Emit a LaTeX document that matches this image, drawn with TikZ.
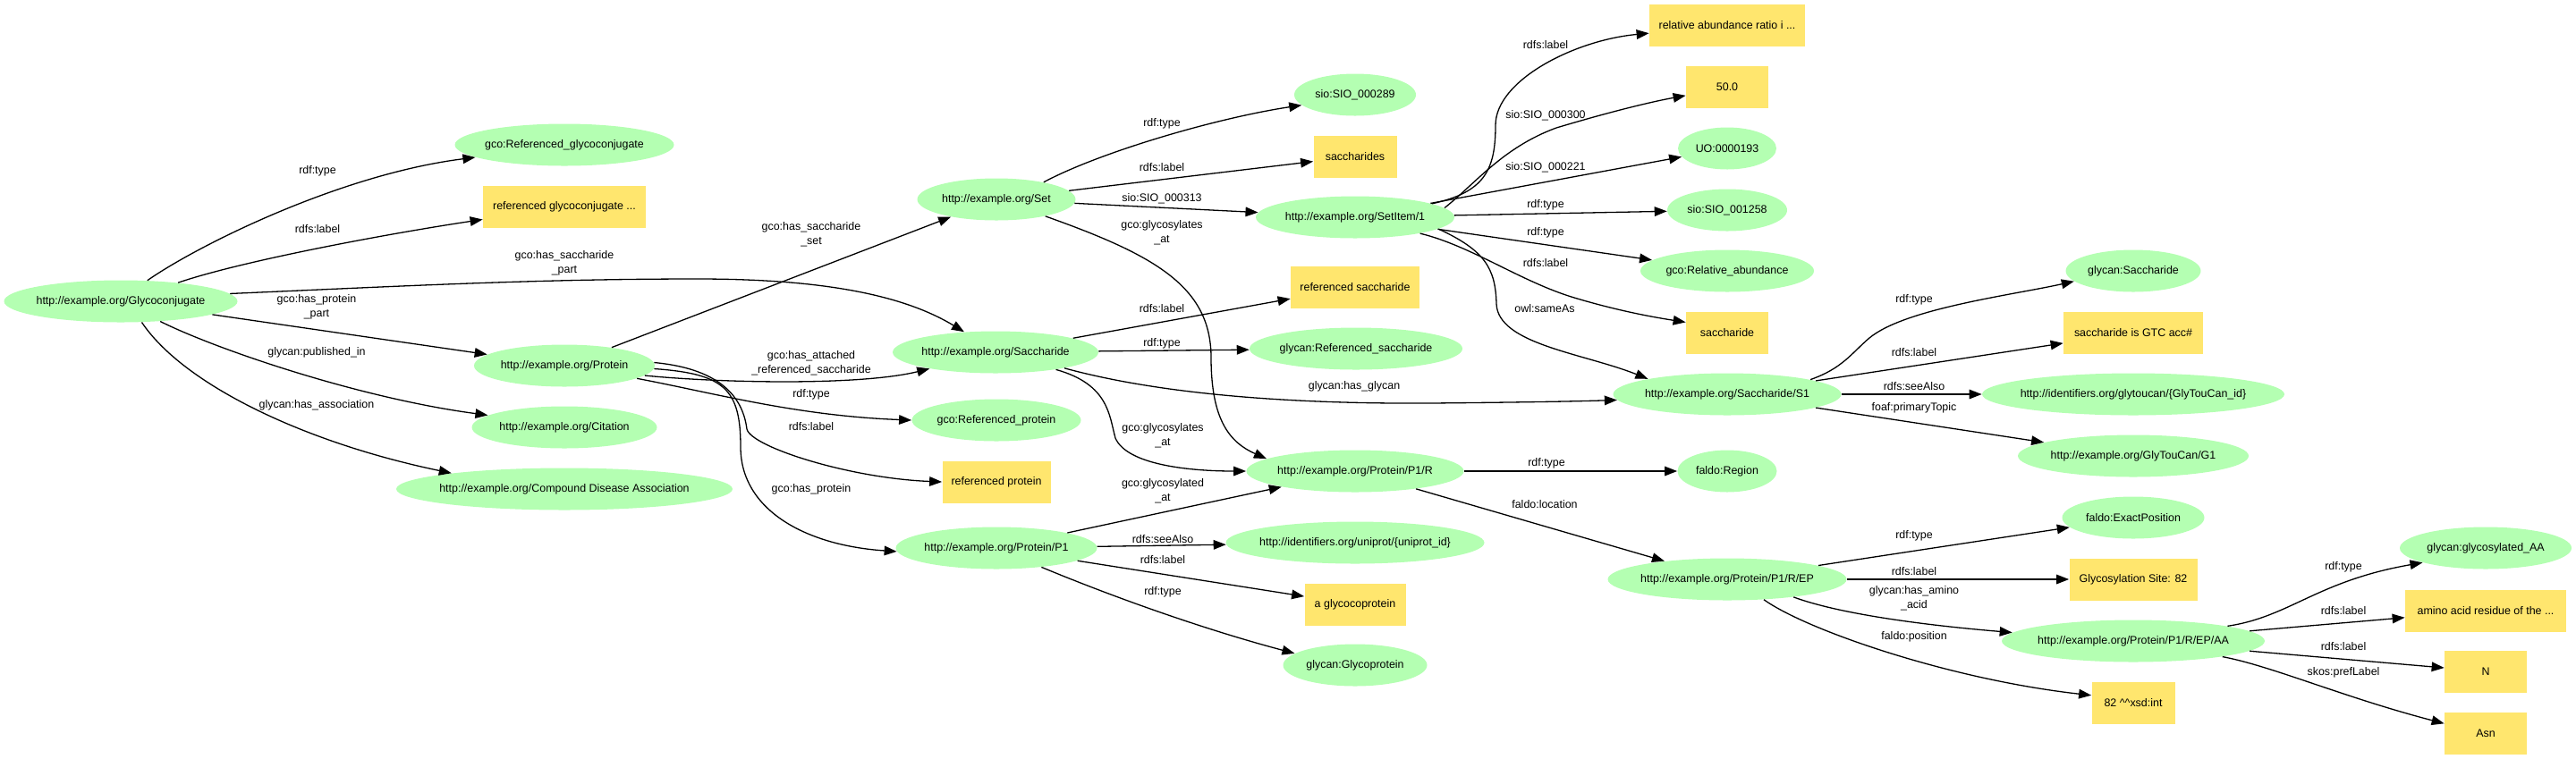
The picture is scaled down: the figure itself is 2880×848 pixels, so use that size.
\documentclass[tikz,border=0pt]{standalone}
\usepackage{fontspec}
\setmainfont{Liberation Sans}
\usetikzlibrary{shapes.geometric,arrows.meta}
\definecolor{ngreen}{RGB}{180,255,178}
\definecolor{nyellow}{RGB}{255,230,110}
\newcommand\gfont{\fontsize{6.22pt}{7.8pt}\selectfont}
\newcommand\ztxt[1]{\makebox[0pt]{#1}}
\begin{document}
\begin{tikzpicture}[x=0.5pt,y=-0.5pt,
  gn/.style={ellipse,fill=ngreen,draw=none,inner sep=0pt,minimum height=23.5pt,font=\gfont},
  yb/.style={rectangle,fill=nyellow,draw=none,inner sep=0pt,minimum height=23.5pt,font=\gfont},
  lb/.style={font=\gfont,align=center,inner sep=0pt},
  e/.style={-{Triangle[length=7pt,width=5.3pt]},line width=0.65pt,black}]
\useasboundingbox (0,0) rectangle (2880,848);
% ellipses
\node[gn,minimum width=130.5pt] (G) at (135,337) {\ztxt{http://example.org/Glycoconjugate}};
\node[gn,minimum width=122.5pt] (RGC) at (631,162) {\ztxt{gco:Referenced\_glycoconjugate}};
\node[gn,minimum width=101pt] (Pr) at (631,409) {\ztxt{http://example.org/Protein}};
\node[gn,minimum width=103.5pt] (Cit) at (631,478) {\ztxt{http://example.org/Citation}};
\node[gn,minimum width=188pt] (CDA) at (631,547) {\ztxt{http://example.org/Compound Disease Association}};
\node[gn,minimum width=88.5pt] (Set) at (1114,223) {\ztxt{http://example.org/Set}};
\node[gn,minimum width=115pt] (Sa) at (1113,394) {\ztxt{http://example.org/Saccharide}};
\node[gn,minimum width=94.5pt] (RP) at (1114,470) {\ztxt{gco:Referenced\_protein}};
\node[gn,minimum width=112.5pt] (P1) at (1114,613) {\ztxt{http://example.org/Protein/P1}};
\node[gn,minimum width=68pt] (S289) at (1515,106) {\ztxt{sio:SIO\_000289}};
\node[gn,minimum width=111pt] (SI) at (1515,243) {\ztxt{http://example.org/SetItem/1}};
\node[gn,minimum width=119pt] (GRS) at (1516,390) {\ztxt{glycan:Referenced\_saccharide}};
\node[gn,minimum width=121.5pt] (PR) at (1515,527) {\ztxt{http://example.org/Protein/P1/R}};
\node[gn,minimum width=144.5pt] (UNI) at (1515,607) {\ztxt{http://identifiers.org/uniprot/\{uniprot\_id\}}};
\node[gn,minimum width=80.5pt] (GP) at (1515,744) {\ztxt{glycan:Glycoprotein}};
\node[gn,minimum width=55pt] (UO) at (1931,166) {\ztxt{UO:0000193}};
\node[gn,minimum width=67pt] (S1258) at (1931,235) {\ztxt{sio:SIO\_001258}};
\node[gn,minimum width=97pt] (RA) at (1931,303) {\ztxt{gco:Relative\_abundance}};
\node[gn,minimum width=127.5pt] (S1) at (1931,441) {\ztxt{http://example.org/Saccharide/S1}};
\node[gn,minimum width=55.5pt] (FR) at (1931,527) {\ztxt{faldo:Region}};
\node[gn,minimum width=133.5pt] (EP) at (1931,648) {\ztxt{http://example.org/Protein/P1/R/EP}};
\node[gn,minimum width=75.5pt] (GS) at (2385,303) {\ztxt{glycan:Saccharide}};
\node[gn,minimum width=169pt] (GTI) at (2385,441) {\ztxt{http://identifiers.org/glytoucan/\{GlyTouCan\_id\}}};
\node[gn,minimum width=129pt] (G1) at (2385,510) {\ztxt{http://example.org/GlyTouCan/G1}};
\node[gn,minimum width=79.5pt] (EXP) at (2385,579) {\ztxt{faldo:ExactPosition}};
\node[gn,minimum width=147pt] (AA) at (2385,717) {\ztxt{http://example.org/Protein/P1/R/EP/AA}};
\node[gn,minimum width=96pt] (GAA) at (2779,613) {\ztxt{glycan:glycosylated\_AA}};
% boxes
\node[yb,minimum width=91pt] (RGCL) at (631,231) {referenced glycoconjugate ...};
\node[yb,minimum width=46.5pt] (SACS) at (1515,175) {saccharides};
\node[yb,minimum width=72pt] (RSL) at (1515,321) {referenced saccharide};
\node[yb,minimum width=60.5pt] (RPL) at (1114,539) {referenced protein};
\node[yb,minimum width=56.5pt] (AGP) at (1515,676) {a glycocoprotein};
\node[yb,minimum width=87pt] (RAR) at (1931,28) {relative abundance ratio i ...};
\node[yb,minimum width=46pt] (F50) at (1931,97) {50.0};
\node[yb,minimum width=46pt] (SACL) at (1931,372) {saccharide};
\node[yb,minimum width=78pt] (GTC) at (2385,372) {saccharide is GTC acc\#};
\node[yb,minimum width=71.5pt] (GSL) at (2385,648) {Glycosylation Site: 82};
\node[yb,minimum width=46.5pt] (XSD) at (2385,786) {82 \textasciicircum\textasciicircum xsd:int};
\node[yb,minimum width=90pt] (AAR) at (2779,683) {amino acid residue of the ...};
\node[yb,minimum width=46pt] (N) at (2779,751) {N};
\node[yb,minimum width=46pt] (ASN) at (2779,820) {Asn};
% edges from Glycoconjugate
\draw[e] (G.38) .. controls (220,275) and (380,195) .. (RGC.188);
\draw[e] (G.18) .. controls (270,292) and (430,262) .. (RGCL.189);
\draw[e] (G.4) .. controls (450,320) and (600,312) .. (780,312) .. controls (920,312) and (1010,330) .. (Sa.147);
\draw[e] (G) -- (Pr);
\draw[e] (G.333) .. controls (240,390) and (400,445) .. (Cit.171);
\draw[e] (G.315) .. controls (205,430) and (340,495) .. (CDA.172);
% edges from Protein
\draw[e] (Pr) -- (Set);
\draw[e] (Pr.353) .. controls (800,428) and (960,432) .. (Sa.194);
\draw[e] (Pr.350) .. controls (800,440) and (890,465) .. (RP.180);
\draw[e] (Pr.2) .. controls (800,412) and (830,440) .. (835,480) .. controls (840,500) and (950,535) .. (RPL.180);
\draw[e] (Pr.358) .. controls (810,418) and (828,435) .. (828,500) .. controls (828,570) and (900,610) .. (P1.182);
% edges from Set
\draw[e] (Set.20) .. controls (1230,170) and (1360,132) .. (S289.191);
\draw[e] (Set) -- (SACS);
\draw[e] (Set) -- (SI);
\draw[e] (Set.341) .. controls (1290,285) and (1354,320) .. (1354,400) .. controls (1354,470) and (1375,495) .. (PR.172);
% edges from SetItem/1
\draw[e] (SI.10) .. controls (1660,215) and (1672,190) .. (1672,140) .. controls (1672,90) and (1760,45) .. (RAR.186);
\draw[e] (SI.6) .. controls (1650,205) and (1680,165) .. (1740,143) .. controls (1790,128) and (1840,115) .. (F50.192);
\draw[e] (SI) -- (UO);
\draw[e] (SI) -- (S1258);
\draw[e] (SI) -- (RA);
\draw[e] (SI.346) .. controls (1645,275) and (1700,315) .. (1760,333) .. controls (1810,348) and (1850,355) .. (SACL.166);
\draw[e] (SI.352) .. controls (1660,280) and (1672,300) .. (1673,340) .. controls (1675,385) and (1770,395) .. (S1.169);
% edges from Saccharide
\draw[e] (Sa) -- (RSL);
\draw[e] (Sa) -- (GRS);
\draw[e] (Sa.347) .. controls (1300,442) and (1450,452) .. (1600,451) .. controls (1700,450) and (1760,449) .. (S1.183);
\draw[e] (Sa.344) .. controls (1240,430) and (1240,465) .. (1247,490) .. controls (1260,520) and (1330,527) .. (PR.180);
% edges from Protein/P1
\draw[e] (P1) -- (PR);
\draw[e] (P1) -- (UNI);
\draw[e] (P1) -- (AGP);
\draw[e] (P1.337) .. controls (1250,670) and (1350,705) .. (GP.169);
% edges from Saccharide/S1
\draw[e] (S1.10) .. controls (2060,412) and (2070,395) .. (2090,378) .. controls (2130,345) and (2250,330) .. (GS.190);
\draw[e] (S1) -- (GTC);
\draw[e] (S1) -- (GTI);
\draw[e] (S1) -- (G1);
% edges from Protein/P1/R
\draw[e] (PR) -- (FR);
\draw[e] (PR) -- (EP);
% edges from EP
\draw[e] (EP) -- (EXP);
\draw[e] (EP) -- (GSL);
\draw[e] (EP.345) .. controls (2060,688) and (2160,700) .. (AA.176);
\draw[e] (EP.331) .. controls (2020,705) and (2180,760) .. (XSD.170);
% edges from AA
\draw[e] (AA.9) .. controls (2560,690) and (2590,650) .. (GAA.193);
\draw[e] (AA) -- (AAR);
\draw[e] (AA) -- (N);
\draw[e] (AA.350) .. controls (2540,745) and (2620,780) .. (ASN.167);
% edge labels
\node[lb] (l1) at (355,191) {rdf:type};
\node[lb] (l2) at (355,256) {rdfs:label};
\node[lb] (l3) at (631,294) {gco:has\_saccharide\\\_part};
\node[lb] (l4) at (354,343) {gco:has\_protein\\\_part};
\node[lb] (l5) at (354,394) {glycan:published\_in};
\node[lb] (l6) at (354,453) {glycan:has\_association};
\node[lb] (l7) at (907,262) {gco:has\_saccharide\\\_set};
\node[lb] (l8) at (907,406) {gco:has\_attached\\\_referenced\_saccharide};
\node[lb] (l9) at (907,441) {rdf:type};
\node[lb] (l10) at (907,477) {rdfs:label};
\node[lb] (l11) at (907,547) {gco:has\_protein};
\node[lb] (l12) at (1299,138) {rdf:type};
\node[lb] (l13) at (1299,187) {rdfs:label};
\node[lb] (l14) at (1299,222) {sio:SIO\_000313};
\node[lb] (l15) at (1299,260) {gco:glycosylates\\\_at};
\node[lb] (l16) at (1299,345) {rdfs:label};
\node[lb] (l17) at (1299,384) {rdf:type};
\node[lb] (l18) at (1514,432) {glycan:has\_glycan};
\node[lb] (l19) at (1300,487) {gco:glycosylates\\\_at};
\node[lb] (l20) at (1300,549) {gco:glycosylated\\\_at};
\node[lb] (l21) at (1300,603) {rdfs:seeAlso};
\node[lb] (l22) at (1300,626) {rdfs:label};
\node[lb] (l23) at (1300,662) {rdf:type};
\node[lb] (l24) at (1728,50) {rdfs:label};
\node[lb] (l25) at (1728,129) {sio:SIO\_000300};
\node[lb] (l26) at (1728,187) {sio:SIO\_000221};
\node[lb] (l27) at (1728,229) {rdf:type};
\node[lb] (l28) at (1728,260) {rdf:type};
\node[lb] (l29) at (1728,294) {rdfs:label};
\node[lb] (l30) at (1727,345) {owl:sameAs};
\node[lb] (l31) at (2140,335) {rdf:type};
\node[lb] (l32) at (2140,394) {rdfs:label};
\node[lb] (l33) at (2140,432) {rdfs:seeAlso};
\node[lb] (l34) at (2140,456) {foaf:primaryTopic};
\node[lb] (l35) at (1729,518) {rdf:type};
\node[lb] (l36) at (1727,564) {faldo:location};
\node[lb] (l37) at (2140,599) {rdf:type};
\node[lb] (l38) at (2140,639) {rdfs:label};
\node[lb] (l39) at (2140,669) {glycan:has\_amino\\\_acid};
\node[lb] (l40) at (2140,712) {faldo:position};
\node[lb] (l41) at (2620,634) {rdf:type};
\node[lb] (l42) at (2620,683) {rdfs:label};
\node[lb] (l43) at (2620,723) {rdfs:label};
\node[lb] (l44) at (2620,752) {skos:prefLabel};
\end{tikzpicture}
\end{document}
